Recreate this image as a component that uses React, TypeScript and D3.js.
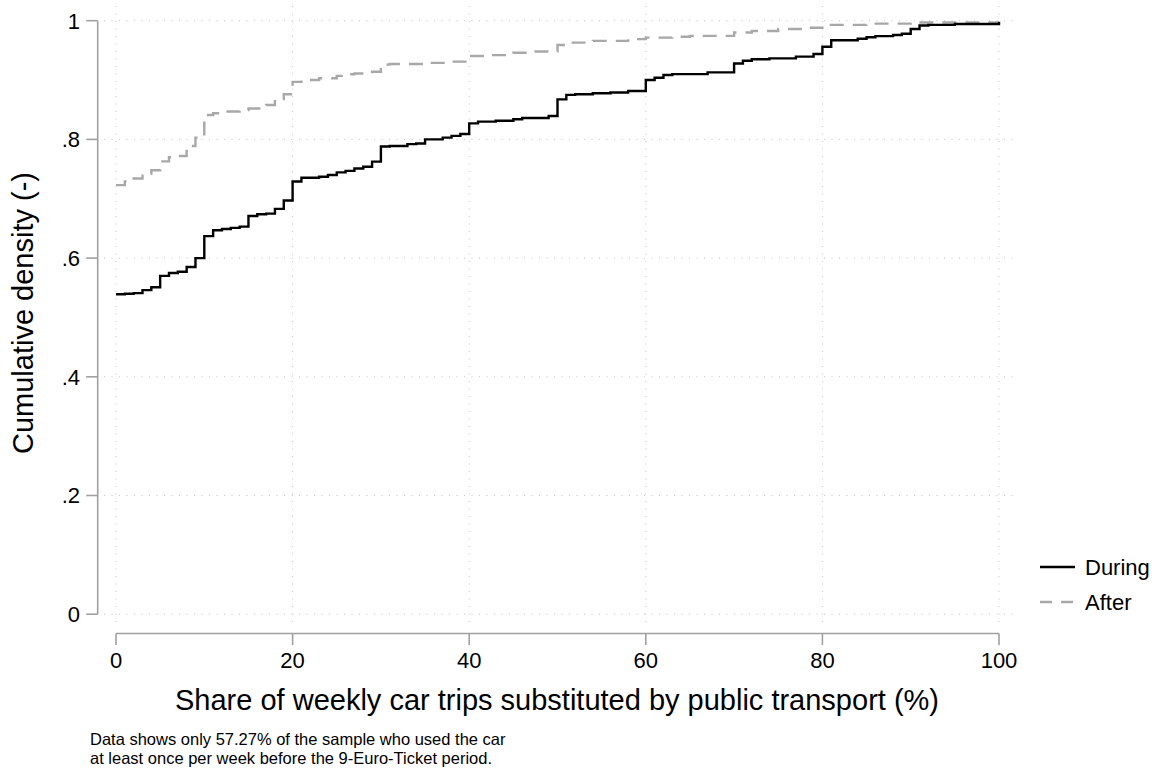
import React from "react";
import * as d3 from "d3";

// Share of weekly car trips substituted (%) and cumulative density, "During" series
const duringX = [0,1,2,3,4,5,6,7,8,9,10,11,12,13,14,15,16,17,18,19,20,21,23,24,25,26,27,28,29,30,31,33,34,35,37,38,39,40,41,43,45,46,49,50,51,52,54,56,58,60,61,62,63,67,70,71,72,74,77,79,80,81,84,85,86,88,89,90,91,92,95,100];
const duringY = [0.539,0.540,0.541,0.546,0.551,0.570,0.575,0.577,0.585,0.600,0.637,0.647,0.649,0.651,0.653,0.671,0.674,0.675,0.683,0.697,0.729,0.7355,0.737,0.740,0.7445,0.747,0.751,0.754,0.7625,0.788,0.789,0.792,0.793,0.800,0.803,0.806,0.809,0.827,0.830,0.8315,0.834,0.836,0.8395,0.8675,0.875,0.876,0.8777,0.879,0.8815,0.900,0.904,0.9085,0.910,0.913,0.928,0.9325,0.935,0.9366,0.9394,0.944,0.956,0.967,0.9697,0.972,0.974,0.976,0.978,0.986,0.992,0.993,0.9945,0.998];

// "After" series
const afterX = [0,1,2,3,4,5,6,7,8,9,10,11,12,14,15,17,18,19,20,21,23,25,26,27,29,30,31,35,38,40,42,45,47,50,51,54,58,60,63,65,70,72,75,78,80,85,90,100];
const afterY = [0.723,0.729,0.734,0.742,0.748,0.763,0.770,0.772,0.789,0.803,0.841,0.844,0.847,0.8495,0.852,0.858,0.868,0.876,0.897,0.900,0.903,0.907,0.9097,0.911,0.914,0.926,0.927,0.929,0.931,0.9405,0.942,0.946,0.948,0.959,0.963,0.966,0.969,0.9715,0.973,0.9745,0.980,0.9826,0.986,0.988,0.993,0.995,0.997,0.9985];

const xTicks = [0, 20, 40, 60, 80, 100];
const yTicks = [0, 0.2, 0.4, 0.6, 0.8, 1];
const yTickLabels = ["0", ".2", ".4", ".6", ".8", "1"];
const seriesNames = ["During", "After"];

const FONT = "'Liberation Sans', Arial, Helvetica, sans-serif";

export default function App() {
  const W = 1168, H = 776;
  const x = d3.scaleLinear().domain([0, 100]).range([116, 999]);
  const y = d3.scaleLinear().domain([0, 1]).range([614.2, 20.7]);
  const plotLeft = 104, plotRight = 1017, plotTop = 6, plotBottom = 628;
  const axisX = 97.7, axisY = 633.5;

  const line = d3.line<[number, number]>()
    .x(d => x(d[0]))
    .y(d => y(d[1]))
    .curve(d3.curveStepAfter);

  const during: [number, number][] = duringX.map((v, i) => [v, duringY[i]]);
  const after: [number, number][] = afterX.map((v, i) => [v, afterY[i]]);

  const gridColor = "#c4c4c4";
  const axisColor = "#a0a0a0";
  const grey = "#a8a8a8";

  return (
    <svg width={W} height={H} style={{ position: "absolute", left: 0, top: 0, display: "block", background: "#fff" }} fontFamily={FONT}>
      <rect x={0} y={0} width={W} height={H} fill="#fff" />
      {/* gridlines */}
      {yTicks.map(t => (
        <line key={"gy" + t} x1={plotLeft} x2={plotRight} y1={y(t)} y2={y(t)} stroke={gridColor} strokeWidth={1} strokeDasharray="1,6.5" />
      ))}
      {xTicks.map(t => (
        <line key={"gx" + t} x1={x(t)} x2={x(t)} y1={plotTop} y2={plotBottom} stroke={gridColor} strokeWidth={1} strokeDasharray="1,6.5" />
      ))}
      {/* y axis */}
      <line x1={axisX} x2={axisX} y1={y(1)} y2={y(0)} stroke={axisColor} strokeWidth={1.6} />
      {yTicks.map((t, i) => (
        <g key={"yt" + t}>
          <line x1={axisX - 11.5} x2={axisX} y1={y(t)} y2={y(t)} stroke={axisColor} strokeWidth={1.6} />
          <text x={80} y={y(t)} dy="0.36em" textAnchor="end" fontSize={22} fill="#000">{yTickLabels[i]}</text>
        </g>
      ))}
      {/* x axis */}
      <line x1={x(0)} x2={x(100)} y1={axisY} y2={axisY} stroke={axisColor} strokeWidth={1.6} />
      {xTicks.map(t => (
        <g key={"xt" + t}>
          <line x1={x(t)} x2={x(t)} y1={axisY} y2={axisY + 11.5} stroke={axisColor} strokeWidth={1.6} />
          <text x={x(t)} y={660} dy="0.36em" textAnchor="middle" fontSize={22} fill="#000">{t}</text>
        </g>
      ))}
      {/* titles */}
      <text x={557} y={700} dy="0.36em" textAnchor="middle" fontSize={29} fill="#000">Share of weekly car trips substituted by public transport (%)</text>
      <text transform={`translate(23,313) rotate(-90)`} dy="0.36em" textAnchor="middle" fontSize={29} fill="#000">Cumulative density (-)</text>
      {/* series */}
      <path d={line(after) || ""} fill="none" stroke={grey} strokeWidth={2.4} strokeDasharray="14,9" />
      <path d={line(during) || ""} fill="none" stroke="#000" strokeWidth={2.4} />
      {/* legend */}
      <line x1={1040} x2={1075} y1={567} y2={567} stroke="#000" strokeWidth={2.4} />
      <text x={1085} y={567} dy="0.36em" fontSize={22} fill="#000">{seriesNames[0]}</text>
      <line x1={1040} x2={1075} y1={602} y2={602} stroke={grey} strokeWidth={2.4} strokeDasharray="12,9" />
      <text x={1085} y={602} dy="0.36em" fontSize={22} fill="#000">{seriesNames[1]}</text>
      {/* footnote */}
      <text x={90} y={739} dy="0.36em" fontSize={16.5} fill="#000">Data shows only 57.27% of the sample who used the car</text>
      <text x={90} y={758} dy="0.36em" fontSize={16.5} fill="#000">at least once per week before the 9-Euro-Ticket period.</text>
    </svg>
  );
}
